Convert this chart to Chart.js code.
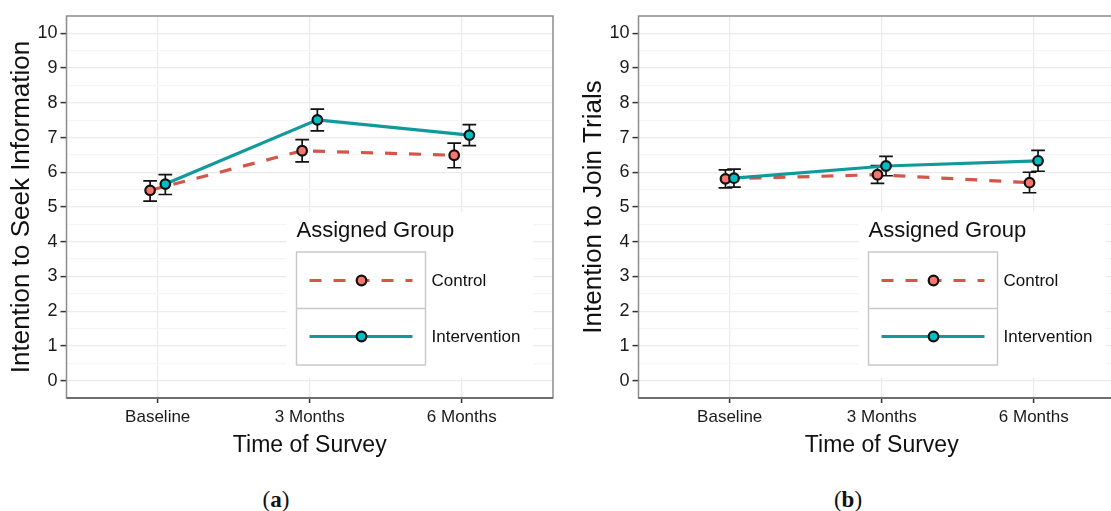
<!DOCTYPE html>
<html>
<head>
<meta charset="utf-8">
<title>Intention to seek information and to join trials</title>
<script src="https://cdn.jsdelivr.net/npm/chart.js@4.4.1/dist/chart.umd.min.js"></script>
<style>
  html, body { margin: 0; padding: 0; background: #fff; overflow: hidden; }
  body { width: 1111px; height: 511px; position: relative; }
  .panel { position: absolute; top: 0; width: 560px; height: 511px; }
  .panel canvas { position: absolute; left: 0; top: 0; }
  .tag {
    position: absolute; left: 0; width: 552px; top: 486px;
    text-align: center; color: #111;
    font: 23px 'Liberation Serif', 'Times New Roman', serif; line-height: 28px;
  }
</style>
</head>
<body>
<div class="panel" style="left:0px">
  <canvas id="seekChart" width="560" height="470"></canvas>
  <div class="tag">(<b>a</b>)</div>
</div>
<div class="panel" style="left:572px">
  <canvas id="joinChart" width="560" height="470"></canvas>
  <div class="tag">(<b>b</b>)</div>
</div>
<script>
const timePoints = ['Baseline', '3 Months', '6 Months'];
const yTicks = [0, 1, 2, 3, 4, 5, 6, 7, 8, 9, 10];

// (a) intention to seek information: mean, lower and upper error bar ends
const seekControl = [5.48, 6.62, 6.49];
const seekControlLow = [5.17, 6.30, 6.13];
const seekControlHigh = [5.75, 6.94, 6.84];
const seekIntervention = [5.66, 7.51, 7.07];
const seekInterventionLow = [5.36, 7.19, 6.77];
const seekInterventionHigh = [5.93, 7.82, 7.37];

// (b) intention to join trials
const joinControl = [5.81, 5.93, 5.70];
const joinControlLow = [5.55, 5.68, 5.41];
const joinControlHigh = [6.07, 6.19, 6.00];
const joinIntervention = [5.83, 6.18, 6.33];
const joinInterventionLow = [5.57, 5.90, 6.03];
const joinInterventionHigh = [6.09, 6.46, 6.63];

const sans = "'Liberation Sans', Arial, sans-serif";
const capHalf = 0.045;

// major lines on the integers, minor ones half way between
const yGrid = yTicks.flatMap(v => v < 10 ? [v, v + 0.5] : [v]);

function makePoints(values, low, high, shift) {
    return values.map((v, i) => ({ x: i + shift, y: v, yMin: low[i], yMax: high[i] }));
}

const errorBars = {
    id: 'errorBars',
    beforeDatasetsDraw(chart) {
        const { ctx, scales: { x, y } } = chart;
        ctx.save();
        ctx.strokeStyle = '#111';
        ctx.lineWidth = 1.7;
        chart.data.datasets.forEach(ds => {
            ds.data.forEach(p => {
                const px = x.getPixelForValue(p.x);
                const left = x.getPixelForValue(p.x - capHalf);
                const right = x.getPixelForValue(p.x + capHalf);
                const top = y.getPixelForValue(p.yMax);
                const bottom = y.getPixelForValue(p.yMin);
                ctx.beginPath();
                ctx.moveTo(px, top); ctx.lineTo(px, bottom);
                ctx.moveTo(left, top); ctx.lineTo(right, top);
                ctx.moveTo(left, bottom); ctx.lineTo(right, bottom);
                ctx.stroke();
            });
        });
        ctx.restore();
    }
};

// ggplot style legend sitting inside the panel
const groupLegend = {
    id: 'groupLegend',
    afterDatasetsDraw(chart) {
        const { ctx, chartArea } = chart;
        const left = chartArea.left;
        ctx.save();
        ctx.fillStyle = '#fff';
        ctx.fillRect(left + 220, 212, 247, 166);
        ctx.fillStyle = '#111';
        ctx.textBaseline = 'middle';
        ctx.font = '22px ' + sans;
        ctx.fillText('Assigned Group', left + 230, 231);
        ctx.strokeStyle = '#c9c9c9';
        ctx.lineWidth = 1.5;
        ctx.strokeRect(left + 230, 252, 129, 113);
        ctx.beginPath();
        ctx.moveTo(left + 230, 308.5);
        ctx.lineTo(left + 359, 308.5);
        ctx.stroke();
        chart.data.datasets.forEach((ds, i) => {
            const cy = 280.5 + i * 56;
            ctx.strokeStyle = ds.borderColor;
            ctx.lineWidth = ds.borderWidth;
            ctx.setLineDash(ds.borderDash || []);
            ctx.beginPath();
            ctx.moveTo(left + 243, cy);
            ctx.lineTo(left + 346, cy);
            ctx.stroke();
            ctx.setLineDash([]);
            ctx.beginPath();
            ctx.arc(left + 295, cy, ds.pointRadius, 0, Math.PI * 2);
            ctx.fillStyle = ds.pointBackgroundColor;
            ctx.fill();
            ctx.lineWidth = ds.pointBorderWidth;
            ctx.strokeStyle = ds.pointBorderColor;
            ctx.stroke();
            ctx.fillStyle = '#111';
            ctx.font = '17px ' + sans;
            ctx.fillText(ds.label, left + 365, cy + 1);
        });
        ctx.restore();
    }
};

const panelBorder = {
    id: 'panelBorder',
    afterDraw(chart) {
        const { ctx, chartArea: a } = chart;
        ctx.save();
        ctx.strokeStyle = '#8c8c8c';
        ctx.lineWidth = 1.5;
        ctx.strokeRect(a.left, a.top, a.right - a.left, a.bottom - a.top);
        ctx.strokeStyle = '#6e6e6e';
        ctx.lineWidth = 2;
        ctx.beginPath();
        ctx.moveTo(a.left, a.bottom);
        ctx.lineTo(a.right, a.bottom);
        ctx.stroke();
        ctx.restore();
    }
};

function buildChart(canvasId, yTitle, controlPts, interventionPts) {
    return new Chart(document.getElementById(canvasId), {
        type: 'line',
        data: {
            datasets: [{
                label: 'Control',
                data: controlPts,
                borderColor: '#d2574b',
                borderWidth: 3.2,
                borderDash: [12, 12],
                pointRadius: 4.8,
                pointBorderWidth: 2.2,
                pointBorderColor: '#111',
                pointBackgroundColor: '#f8766d',
                tension: 0,
                order: 2
            }, {
                label: 'Intervention',
                data: interventionPts,
                borderColor: '#11999c',
                borderWidth: 3.2,
                borderDash: [],
                pointRadius: 4.8,
                pointBorderWidth: 2.2,
                pointBorderColor: '#111',
                pointBackgroundColor: '#00bfc4',
                tension: 0,
                order: 1
            }]
        },
        options: {
            responsive: false,
            animation: false,
            devicePixelRatio: 1,
            layout: { padding: { top: 16, right: 6, left: 0, bottom: 0 } },
            plugins: {
                legend: { display: false },
                tooltip: { enabled: false }
            },
            scales: {
                x: {
                    type: 'linear',
                    min: -0.6,
                    max: 2.6,
                    afterBuildTicks: s => { s.ticks = timePoints.map((t, i) => ({ value: i })); },
                    afterFit: s => { s.height = 72; },
                    ticks: {
                        callback: v => timePoints[v],
                        color: '#1a1a1a',
                        font: { family: sans, size: 17 },
                        padding: 4,
                        maxRotation: 0,
                        autoSkip: false
                    },
                    grid: { color: '#ebebeb', lineWidth: 1.2, tickLength: 5, tickColor: '#333', tickWidth: 1.5 },
                    border: { display: false },
                    title: {
                        display: true,
                        text: 'Time of Survey',
                        color: '#111',
                        font: { family: sans, size: 23 },
                        padding: { top: 0, bottom: 11 }
                    }
                },
                y: {
                    type: 'linear',
                    min: -0.5,
                    max: 10.5,
                    afterBuildTicks: s => { s.ticks = yGrid.map(v => ({ value: v })); },
                    afterFit: s => { s.width = 66.5; },
                    ticks: {
                        callback: v => Number.isInteger(v) ? String(v) : '',
                        color: '#1a1a1a',
                        font: { family: sans, size: 18 },
                        padding: 3,
                        autoSkip: false
                    },
                    grid: {
                        color: c => Number.isInteger(c.tick.value) ? '#ebebeb' : '#f5f5f5',
                        lineWidth: 1.2,
                        tickLength: 6,
                        tickColor: c => Number.isInteger(c.tick.value) ? '#333' : 'rgba(0,0,0,0)',
                        tickWidth: 1.5
                    },
                    border: { display: false },
                    title: {
                        display: true,
                        text: yTitle,
                        color: '#111',
                        font: { family: sans, size: 26 },
                        padding: { top: 6, bottom: 0 }
                    }
                }
            }
        },
        plugins: [errorBars, groupLegend, panelBorder]
    });
}

buildChart('seekChart', 'Intention to Seek Information',
    makePoints(seekControl, seekControlLow, seekControlHigh, -0.05),
    makePoints(seekIntervention, seekInterventionLow, seekInterventionHigh, 0.05));

buildChart('joinChart', 'Intention to Join Trials',
    makePoints(joinControl, joinControlLow, joinControlHigh, -0.028),
    makePoints(joinIntervention, joinInterventionLow, joinInterventionHigh, 0.028));
</script>
</body>
</html>
